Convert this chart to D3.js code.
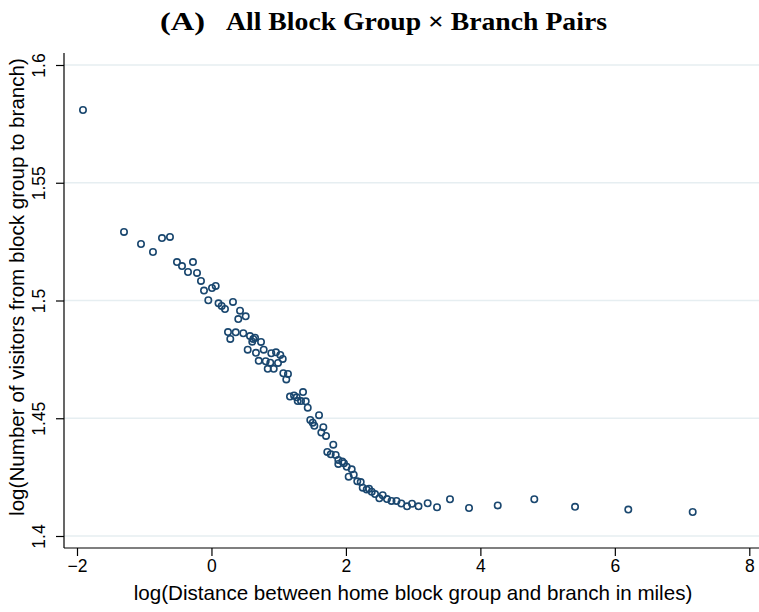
<!DOCTYPE html>
<html>
<head>
<meta charset="utf-8">
<script src="https://cdn.jsdelivr.net/npm/d3@7"></script>
<style>
  body { margin: 0; background: #fff; }
  svg { display: block; }
</style>
</head>
<body>
<div id="chart"></div>
<script>
// binned scatter: log distance vs log visitors
const logDistance = [
  -1.911, -1.301, -1.048, -0.870, -0.736, -0.617, -0.513, -0.438, -0.349, -0.275,
  -0.215, -0.156, -0.111, 0.008, 0.063, -0.047, 0.105, 0.152, 0.201, 0.320,
  0.425, 0.509, 0.399, 0.246, 0.280, 0.361, 0.474, 0.573, 0.622, 0.648,
  0.607, 0.737, 0.539, 0.662, 0.777, 0.890, 0.960, 1.024, 1.060, 0.703,
  0.807, 0.875, 0.990, 0.837, 0.926, 1.069, 1.138, 1.113, 1.168, 1.228,
  1.268, 1.362, 1.283, 1.332, 1.402, 1.432, 1.470, 1.506, 1.600, 1.530,
  1.664, 1.634, 1.704, 1.812, 1.723, 1.774, 1.848, 1.887, 1.946, 1.971,
  2.012, 2.086, 2.041, 2.116, 2.169, 2.220, 2.250, 2.309, 2.344, 2.384,
  2.433, 2.497, 2.547, 2.611, 2.678, 2.752, 2.824, 2.909, 2.983, 3.080,
  3.216, 3.355, 3.548, 3.831, 4.258, 4.802, 5.408, 6.200, 7.158, 1.887
];
const logVisitors = [
  1.5809, 1.5291, 1.5240, 1.5206, 1.5265, 1.5270, 1.5163, 1.5146, 1.5121, 1.5163,
  1.5117, 1.5083, 1.5042, 1.5053, 1.5062, 1.5001, 1.4988, 1.4977, 1.4964, 1.4994,
  1.4957, 1.4933, 1.4921, 1.4866, 1.4837, 1.4865, 1.4861, 1.4849, 1.4837, 1.4842,
  1.4825, 1.4824, 1.4791, 1.4778, 1.4791, 1.4776, 1.4780, 1.4769, 1.4752, 1.4744,
  1.4742, 1.4736, 1.4735, 1.4710, 1.4710, 1.4691, 1.4688, 1.4665, 1.4592, 1.4597,
  1.4589, 1.4611, 1.4573, 1.4573, 1.4572, 1.4545, 1.4493, 1.4481, 1.4513, 1.4468,
  1.4462, 1.4439, 1.4425, 1.4388, 1.4357, 1.4347, 1.4344, 1.4306, 1.4316, 1.4309,
  1.4294, 1.4283, 1.4252, 1.4260, 1.4232, 1.4229, 1.4205, 1.4197, 1.4201, 1.4188,
  1.4178, 1.4160, 1.4173, 1.4157, 1.4149, 1.4149, 1.4138, 1.4126, 1.4137, 1.4126,
  1.4139, 1.4122, 1.4156, 1.4119, 1.4130, 1.4156, 1.4124, 1.4112, 1.4102, 1.4323
];
const xTicks = [-2, 0, 2, 4, 6, 8];
const yTicks = [1.4, 1.45, 1.5, 1.55, 1.6];

const titleText = "All Block Group \u00d7 Branch Pairs";
const xTitle = "log(Distance between home block group and branch in miles)";
const yTitle = "log(Number of visitors from block group to branch)";

const W = 759, H = 612;
const navy = "#1a476f";
const sans = "'Liberation Sans', Arial, sans-serif";

const svg = d3.select("#chart").append("svg")
  .attr("width", W)
  .attr("height", H);

// plot region edges
const pr = { left: 64, right: 759, top: 53, bottom: 548 };

const x = d3.scaleLinear().domain([-2, 8]).range([77, 749.3]);
const y = d3.scaleLinear().domain([1.4, 1.6]).range([536, 65]);

// grid lines
svg.append("g")
  .selectAll("line")
  .data(yTicks)
  .join("line")
  .attr("x1", pr.left)
  .attr("x2", pr.right)
  .attr("y1", d => y(d))
  .attr("y2", d => y(d))
  .attr("stroke", "#e6eef1")
  .attr("stroke-width", 1.3);

// axes
const xAxis = d3.axisBottom(x).tickValues(xTicks).tickSize(8).tickPadding(4)
  .tickFormat(d3.format("d"));
const xG = svg.append("g")
  .attr("transform", `translate(0,${pr.bottom})`)
  .call(xAxis);
xG.select(".domain").attr("d", `M${pr.left},0H${pr.right}`);

const yAxis = d3.axisLeft(y).tickValues(yTicks).tickSize(8).tickPadding(0)
  .tickFormat(d => String(+d.toFixed(2)));
const yG = svg.append("g")
  .attr("transform", `translate(${pr.left},0)`)
  .call(yAxis);
yG.select(".domain").attr("d", `M0,${pr.top}V${pr.bottom}`);

[xG, yG].forEach(g => {
  g.select(".domain").attr("stroke", "#000").attr("stroke-width", 1.2);
  g.selectAll(".tick line").attr("stroke", "#000").attr("stroke-width", 1.2);
  g.selectAll(".tick text")
    .attr("fill", "#000")
    .style("font-family", sans)
    .style("font-size", "17.5px");
});

// y tick labels are rotated in Stata style
yG.selectAll(".tick text")
  .attr("x", null).attr("dy", null)
  .attr("text-anchor", "middle")
  .attr("transform", "translate(-19,0) rotate(-90)");

// titles
svg.append("text")
  .attr("x", 413).attr("y", 600)
  .attr("text-anchor", "middle")
  .style("font-family", sans)
  .style("font-size", "20.6px")
  .text(xTitle);

svg.append("text")
  .attr("transform", "translate(24,287) rotate(-90)")
  .attr("text-anchor", "middle")
  .style("font-family", sans)
  .style("font-size", "20.6px")
  .text(yTitle);

const title = svg.append("text")
  .attr("y", 30)
  .style("font-family", "'Liberation Serif', 'Times New Roman', serif")
  .style("font-weight", "bold")
  .style("font-size", "25px");
title.append("tspan").attr("x", 160)
  .attr("textLength", 45).attr("lengthAdjust", "spacingAndGlyphs")
  .text("(A)");
title.append("tspan").attr("x", 226)
  .attr("textLength", 381).attr("lengthAdjust", "spacingAndGlyphs")
  .text(titleText);

// markers
const points = logDistance.map((d, i) => ({ x: d, y: logVisitors[i] }));
svg.append("g")
  .selectAll("circle")
  .data(points)
  .join("circle")
  .attr("cx", d => x(d.x))
  .attr("cy", d => y(d.y))
  .attr("r", 3.2)
  .attr("fill", "none")
  .attr("stroke", navy)
  .attr("stroke-width", 1.6);
</script>
</body>
</html>
